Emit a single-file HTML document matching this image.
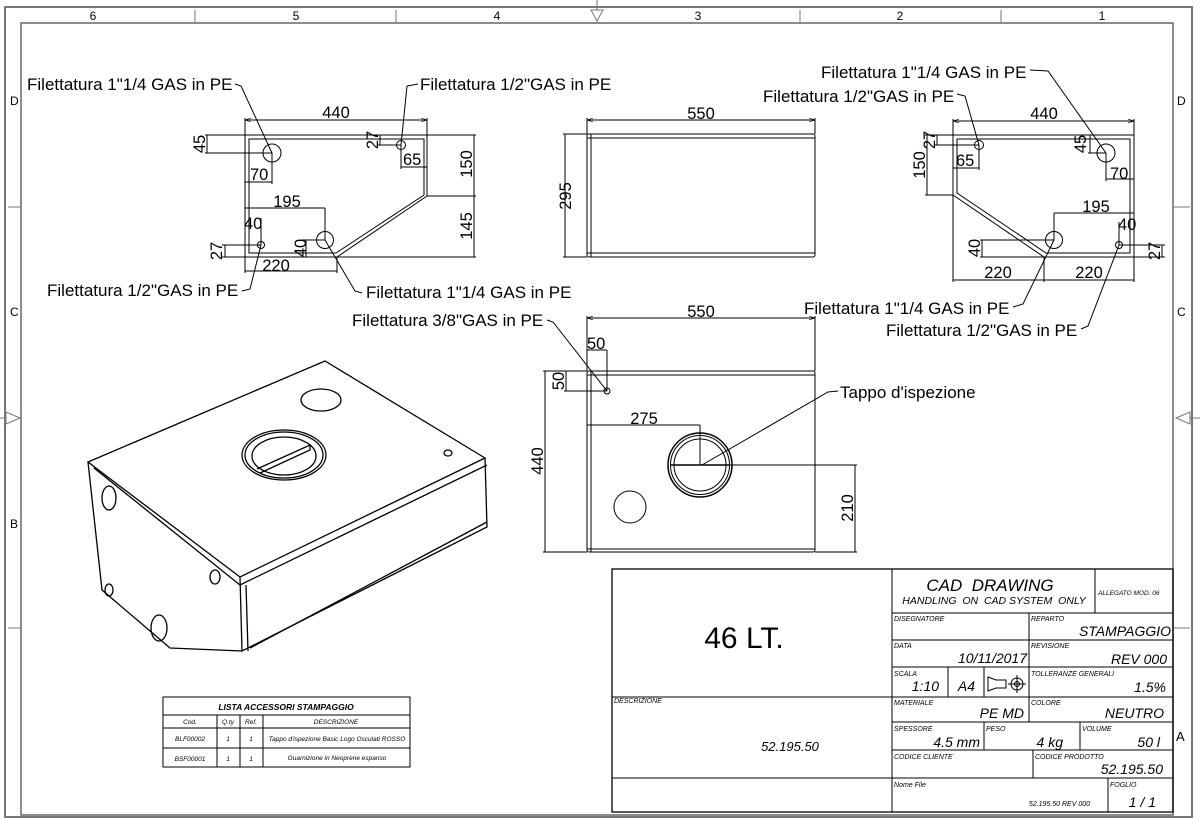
<!DOCTYPE html>
<html><head><meta charset="utf-8"><style>
html,body{margin:0;padding:0;background:#fff;}
svg{display:block;}
text{font-family:"Liberation Sans",Arial,sans-serif;fill:#000;}
.d{font-size:16.5px;}
.l{font-size:17px;}
.i{font-style:italic;}
</style></head><body>
<svg width="1200" height="819" viewBox="0 0 1200 819" xmlns="http://www.w3.org/2000/svg">
<defs>
<marker id="a" viewBox="0 0 10 10" refX="10" refY="5" markerWidth="6" markerHeight="6" orient="auto-start-reverse"><path d="M0,2 L10,5 L0,8" fill="none" stroke="#000" stroke-width="1"/></marker>
</defs>
<g fill="none" stroke="#000" stroke-width="1">
<rect x="5" y="7" width="1187" height="810" stroke="#777" stroke-width="2"/>
<rect x="21" y="23" width="1152" height="792" stroke="#666" stroke-width="1.5"/>
<g stroke="#777">
<line x1="195" y1="10" x2="195" y2="23"/><line x1="396" y1="10" x2="396" y2="23"/><line x1="800" y1="10" x2="800" y2="23"/><line x1="1001" y1="10" x2="1001" y2="23"/>
<path d="M591,10 L603,10 L597,21 Z"/><line x1="597" y1="0" x2="597" y2="10"/>
<line x1="8" y1="207" x2="21" y2="207"/><line x1="8" y1="628" x2="21" y2="628"/>
<path d="M6,412 L6,424 L20,418 Z"/><line x1="0" y1="418" x2="6" y2="418"/>
<line x1="1173" y1="207" x2="1190" y2="207"/><line x1="1173" y1="628" x2="1190" y2="628"/>
<path d="M1190,412 L1190,424 L1176,418 Z"/><line x1="1190" y1="418" x2="1200" y2="418"/>
</g>

<!-- LEFT VIEW -->
<path d="M245,135 L427,135 L427,196 L337,257 L245,257 Z"/>
<path d="M249,139 L424,139 L424,195 L336,253 L249,253 Z"/>
<circle cx="272" cy="153" r="9"/>
<circle cx="401" cy="145" r="4.5"/>
<circle cx="261" cy="245" r="3.5"/>
<circle cx="325" cy="240" r="8.5"/>
<line x1="245" y1="120" x2="427" y2="120" marker-start="url(#a)" marker-end="url(#a)"/>
<line x1="245" y1="118" x2="245" y2="135"/><line x1="427" y1="118" x2="427" y2="135"/>
<line x1="205" y1="135" x2="245" y2="135"/><line x1="205" y1="153" x2="272" y2="153"/><line x1="207" y1="135" x2="207" y2="153"/>
<line x1="272" y1="153" x2="272" y2="184"/><line x1="245" y1="182" x2="272" y2="182"/>
<line x1="378" y1="145" x2="401" y2="145"/><line x1="380" y1="135" x2="380" y2="145"/>
<line x1="401" y1="145" x2="401" y2="169"/><line x1="401" y1="167" x2="427" y2="167"/>
<line x1="427" y1="135" x2="476" y2="135"/><line x1="427" y1="196" x2="476" y2="196"/><line x1="337" y1="257" x2="476" y2="257"/>
<line x1="474" y1="135" x2="474" y2="257"/>
<line x1="245" y1="208" x2="325" y2="208"/><line x1="325" y1="208" x2="325" y2="240"/>
<line x1="261" y1="218" x2="261" y2="245"/>
<line x1="222" y1="245" x2="261" y2="245"/><line x1="222" y1="257" x2="245" y2="257"/><line x1="225" y1="245" x2="225" y2="257"/>
<line x1="302" y1="240" x2="325" y2="240"/><line x1="306" y1="240" x2="306" y2="257"/>
<line x1="245" y1="257" x2="245" y2="273"/><line x1="337" y1="257" x2="337" y2="273"/><line x1="245" y1="271" x2="337" y2="271"/>
<path d="M235,84 L241,86 L272,153"/>
<path d="M418,84 L407,86 L401,145"/>
<path d="M242,291 L250,289 L261,245"/>
<path d="M362,293 L355,291 L325,240"/>

<!-- MIDDLE TOP VIEW -->
<rect x="587" y="134" width="228" height="123" rx="2"/>
<line x1="587" y1="138" x2="815" y2="138"/><line x1="587" y1="253" x2="815" y2="253"/><line x1="591" y1="134" x2="591" y2="257"/>
<line x1="587" y1="120" x2="815" y2="120" marker-start="url(#a)" marker-end="url(#a)"/>
<line x1="587" y1="118" x2="587" y2="134"/><line x1="815" y1="118" x2="815" y2="134"/>
<line x1="565" y1="134" x2="565" y2="257"/><line x1="563" y1="134" x2="587" y2="134"/><line x1="563" y1="257" x2="587" y2="257"/>

<!-- RIGHT VIEW -->
<path d="M953,135 L1134,135 L1134,257 L1044,257 L953,195 Z"/>
<path d="M957,139 L1130,139 L1130,253 L1046,253 L957,193 Z"/>
<circle cx="979" cy="145" r="4.5"/>
<circle cx="1106" cy="153" r="9"/>
<circle cx="1054" cy="240" r="8.5"/>
<circle cx="1119" cy="245" r="3.5"/>
<line x1="953" y1="121" x2="1134" y2="121" marker-start="url(#a)" marker-end="url(#a)"/>
<line x1="953" y1="119" x2="953" y2="135"/><line x1="1134" y1="119" x2="1134" y2="135"/>
<line x1="925" y1="135" x2="953" y2="135"/><line x1="925" y1="195" x2="953" y2="195"/><line x1="927" y1="135" x2="927" y2="195"/>
<line x1="935" y1="145" x2="979" y2="145"/><line x1="937" y1="135" x2="937" y2="145"/>
<line x1="979" y1="145" x2="979" y2="170"/><line x1="953" y1="168" x2="979" y2="168"/>
<line x1="1088" y1="153" x2="1106" y2="153"/><line x1="1090" y1="135" x2="1090" y2="153"/>
<line x1="1106" y1="153" x2="1106" y2="181"/><line x1="1106" y1="179" x2="1134" y2="179"/>
<line x1="1054" y1="213" x2="1134" y2="213"/><line x1="1054" y1="213" x2="1054" y2="240"/>
<line x1="1119" y1="222" x2="1119" y2="245"/>
<line x1="980" y1="240" x2="1054" y2="240"/><line x1="980" y1="257" x2="1044" y2="257"/><line x1="982" y1="240" x2="982" y2="257"/>
<line x1="1119" y1="245" x2="1165" y2="245"/><line x1="1134" y1="257" x2="1165" y2="257"/><line x1="1162" y1="245" x2="1162" y2="257"/>
<line x1="953" y1="195" x2="953" y2="282"/><line x1="1134" y1="257" x2="1134" y2="282"/><line x1="1044" y1="257" x2="1044" y2="282"/>
<line x1="953" y1="280" x2="1134" y2="280"/>
<path d="M1030,70 L1048,71 L1106,153"/>
<path d="M957,94 L965,96 L979,145"/>
<path d="M1013,307 L1023,304 L1054,240"/>
<path d="M1081,329 L1088,326 L1119,245"/>

<!-- BOTTOM VIEW -->
<rect x="587" y="371" width="228" height="181" rx="2"/>
<line x1="587" y1="375" x2="815" y2="375"/><line x1="591" y1="371" x2="591" y2="552"/><line x1="587" y1="549" x2="815" y2="549"/>
<line x1="587" y1="318" x2="815" y2="318" marker-start="url(#a)" marker-end="url(#a)"/>
<line x1="587" y1="316" x2="587" y2="371"/><line x1="815" y1="316" x2="815" y2="371"/>
<line x1="545" y1="371" x2="545" y2="552"/><line x1="543" y1="371" x2="587" y2="371"/><line x1="543" y1="552" x2="587" y2="552"/>
<line x1="587" y1="350" x2="607" y2="350"/><line x1="607" y1="350" x2="607" y2="391"/>
<line x1="564" y1="391" x2="607" y2="391"/><line x1="566" y1="371" x2="566" y2="391"/>
<circle cx="607" cy="391" r="3"/>
<line x1="587" y1="425" x2="700" y2="425"/><line x1="700" y1="425" x2="700" y2="465"/>
<circle cx="700" cy="465" r="32" stroke-width="1.5"/><circle cx="700" cy="465" r="29.5"/><circle cx="700" cy="465" r="26"/>
<line x1="670" y1="465" x2="730" y2="465" stroke-width="1.5"/>
<line x1="730" y1="465" x2="857" y2="465"/><line x1="815" y1="552" x2="857" y2="552"/><line x1="855" y1="465" x2="855" y2="552"/>
<circle cx="630" cy="507" r="16"/>
<path d="M838,391 L828,392 L702,465"/>
<path d="M547,320 L553,322 L607,391"/>

<!-- ISOMETRIC -->
<g stroke-width="1.3">
<path d="M88,462 L325,361 L485,458 L240,577 Z"/>
<path d="M94,468 L240,585 L487,465"/>
<path d="M88,462 L102,590 L170,648 L242,651 L487,527 L485,458"/>
<path d="M240,577 L242,651"/>
<path d="M246,585 L248,651"/>
<path d="M250,648 L487,522"/>
<ellipse cx="284" cy="455" rx="42" ry="25"/>
<ellipse cx="284" cy="455" rx="39" ry="23"/>
<ellipse cx="284" cy="456" rx="32" ry="19"/>
<path d="M257,469 L310,445 L310,450 L260,473"/>
<ellipse cx="321" cy="400" rx="20" ry="11"/>
<ellipse cx="448" cy="453" rx="4" ry="3"/>
<ellipse cx="109" cy="498" rx="7" ry="12"/>
<ellipse cx="215" cy="577" rx="5" ry="7"/>
<ellipse cx="109" cy="590" rx="4" ry="6"/>
<ellipse cx="159" cy="628" rx="8" ry="13"/>
</g>

<!-- TABLE -->
<rect x="163" y="697" width="247" height="70"/>
<line x1="163" y1="715" x2="410" y2="715"/><line x1="163" y1="728" x2="410" y2="728"/><line x1="163" y1="748" x2="410" y2="748"/>
<line x1="217" y1="715" x2="217" y2="767"/><line x1="240" y1="715" x2="240" y2="767"/><line x1="263" y1="715" x2="263" y2="767"/>

<!-- TITLE BLOCK -->
<rect x="612" y="569" width="561" height="243" stroke-width="1.3"/>
<line x1="892" y1="569" x2="892" y2="812"/>
<line x1="612" y1="697" x2="892" y2="697"/><line x1="612" y1="778" x2="892" y2="778"/>
<line x1="892" y1="613" x2="1173" y2="613"/><line x1="892" y1="640" x2="1173" y2="640"/><line x1="892" y1="667" x2="1173" y2="667"/>
<line x1="892" y1="697" x2="1173" y2="697"/><line x1="892" y1="722" x2="1173" y2="722"/><line x1="892" y1="750" x2="1173" y2="750"/><line x1="892" y1="778" x2="1173" y2="778"/>
<line x1="1095" y1="569" x2="1095" y2="613"/>
<line x1="1029" y1="613" x2="1029" y2="722"/>
<line x1="948" y1="667" x2="948" y2="697"/><line x1="984" y1="667" x2="984" y2="697"/>
<line x1="984" y1="722" x2="984" y2="750"/><line x1="1080" y1="722" x2="1080" y2="750"/>
<line x1="1033" y1="750" x2="1033" y2="778"/>
<line x1="1108" y1="778" x2="1108" y2="812"/>
<path d="M988,677 L996,680 L1006,680 L1006,688 L996,688 L988,691 Z"/>
<circle cx="1017" cy="684" r="6"/><circle cx="1017" cy="684" r="2.5"/>
<line x1="1008" y1="684" x2="1026" y2="684"/><line x1="1017" y1="675" x2="1017" y2="693"/>
</g>

<g stroke="none">
<text x="93" y="20" font-size="12" text-anchor="middle">6</text>
<text x="296" y="20" font-size="12" text-anchor="middle">5</text>
<text x="497" y="20" font-size="12" text-anchor="middle">4</text>
<text x="698" y="20" font-size="12" text-anchor="middle">3</text>
<text x="900" y="20" font-size="12" text-anchor="middle">2</text>
<text x="1102" y="20" font-size="12" text-anchor="middle">1</text>
<text x="10" y="105" font-size="12">D</text><text x="10" y="316" font-size="12">C</text><text x="10" y="528" font-size="12">B</text>
<text x="1177" y="105" font-size="12">D</text><text x="1177" y="316" font-size="12">C</text><text x="1176" y="741" font-size="13">A</text>

<text class="l" x="27" y="90">Filettatura 1"1/4 GAS in PE</text>
<text class="l" x="420" y="90">Filettatura 1/2"GAS in PE</text>
<text class="l" x="47" y="296">Filettatura 1/2"GAS in PE</text>
<text class="l" x="366" y="298">Filettatura 1"1/4 GAS in PE</text>
<text class="d" x="336" y="118" text-anchor="middle">440</text>
<text class="d" x="250" y="180">70</text>
<text class="d" x="403" y="165">65</text>
<text class="d" x="287" y="207" text-anchor="middle">195</text>
<text class="d" x="244" y="229">40</text>
<text class="d" x="276" y="271" text-anchor="middle">220</text>
<text class="d" transform="translate(205,144) rotate(-90)" text-anchor="middle">45</text>
<text class="d" transform="translate(378,140) rotate(-90)" text-anchor="middle">27</text>
<text class="d" transform="translate(472,164) rotate(-90)" text-anchor="middle">150</text>
<text class="d" transform="translate(472,226) rotate(-90)" text-anchor="middle">145</text>
<text class="d" transform="translate(222,251) rotate(-90)" text-anchor="middle">27</text>
<text class="d" transform="translate(306,248) rotate(-90)" text-anchor="middle">40</text>

<text class="d" x="701" y="119" text-anchor="middle">550</text>
<text class="d" transform="translate(571,196) rotate(-90)" text-anchor="middle">295</text>

<text class="l" x="821" y="78">Filettatura 1"1/4 GAS in PE</text>
<text class="l" x="763" y="102">Filettatura 1/2"GAS in PE</text>
<text class="l" x="804" y="314">Filettatura 1"1/4 GAS in PE</text>
<text class="l" x="886" y="336">Filettatura 1/2"GAS in PE</text>
<text class="d" x="1044" y="119" text-anchor="middle">440</text>
<text class="d" x="956" y="166">65</text>
<text class="d" x="1110" y="179">70</text>
<text class="d" x="1096" y="212" text-anchor="middle">195</text>
<text class="d" x="1118" y="230">40</text>
<text class="d" x="998" y="278" text-anchor="middle">220</text>
<text class="d" x="1089" y="278" text-anchor="middle">220</text>
<text class="d" transform="translate(925,165) rotate(-90)" text-anchor="middle">150</text>
<text class="d" transform="translate(935,140) rotate(-90)" text-anchor="middle">27</text>
<text class="d" transform="translate(1086,144) rotate(-90)" text-anchor="middle">45</text>
<text class="d" transform="translate(980,248) rotate(-90)" text-anchor="middle">40</text>
<text class="d" transform="translate(1160,251) rotate(-90)" text-anchor="middle">27</text>

<text class="l" x="352" y="326">Filettatura 3/8"GAS in PE</text>
<text class="l" x="840" y="398">Tappo d'ispezione</text>
<text class="d" x="701" y="317" text-anchor="middle">550</text>
<text class="d" x="587" y="349">50</text>
<text class="d" x="644" y="424" text-anchor="middle">275</text>
<text class="d" transform="translate(564,381) rotate(-90)" text-anchor="middle">50</text>
<text class="d" transform="translate(543,461) rotate(-90)" text-anchor="middle">440</text>
<text class="d" transform="translate(853,508) rotate(-90)" text-anchor="middle">210</text>

<text x="286" y="710" font-size="8.5" font-weight="bold" class="i" text-anchor="middle">LISTA ACCESSORI STAMPAGGIO</text>
<g font-size="6.5" class="i">
<text x="190" y="724" text-anchor="middle">Cod.</text>
<text x="228" y="724" text-anchor="middle">Q.ty</text>
<text x="251" y="724" text-anchor="middle">Ref.</text>
<text x="336" y="724" text-anchor="middle">DESCRIZIONE</text>
<text x="190" y="741" text-anchor="middle">BLF00002</text>
<text x="228" y="741" text-anchor="middle">1</text>
<text x="251" y="741" text-anchor="middle">1</text>
<text x="337" y="741" text-anchor="middle">Tappo d'ispezione Basic Logo Osculati ROSSO</text>
<text x="190" y="761" text-anchor="middle">BSF00001</text>
<text x="228" y="761" text-anchor="middle">1</text>
<text x="251" y="761" text-anchor="middle">1</text>
<text x="337" y="760" text-anchor="middle">Guarnizione in Neoprene espanso</text>
</g>

<text x="744" y="648" font-size="30" text-anchor="middle">46 LT.</text>
<text x="614" y="703" font-size="7" class="i">DESCRIZIONE</text>
<text x="790" y="751" font-size="13" class="i" text-anchor="middle">52.195.50</text>
<text x="990" y="591" font-size="17" class="i" text-anchor="middle">CAD&#160;&#160;DRAWING</text>
<text x="994" y="604" font-size="10.5" class="i" text-anchor="middle">HANDLING&#160;&#160;ON&#160;&#160;CAD SYSTEM&#160;&#160;ONLY</text>
<text x="1098" y="595" font-size="6.5" class="i">ALLEGATO MOD. 06</text>
<g font-size="7" class="i">
<text x="894" y="621">DISEGNATORE</text><text x="1031" y="621">REPARTO</text>
<text x="894" y="648">DATA</text><text x="1031" y="648">REVISIONE</text>
<text x="894" y="676">SCALA</text><text x="1031" y="676">TOLLERANZE GENERALI</text>
<text x="894" y="705">MATERIALE</text><text x="1031" y="705">COLORE</text>
<text x="894" y="731">SPESSORE</text><text x="986" y="731">PESO</text><text x="1082" y="731">VOLUME</text>
<text x="894" y="759">CODICE CLIENTE</text><text x="1035" y="759">CODICE PRODOTTO</text>
<text x="894" y="787">Nome File</text><text x="1110" y="787">FOGLIO</text>
<text x="1090" y="806" text-anchor="end">52.195.50 REV 000</text>
</g>
<g font-size="14" class="i" text-anchor="end">
<text x="1171" y="636">STAMPAGGIO</text>
<text x="1027" y="663">10/11/2017</text>
<text x="1167" y="664">REV 000</text>
<text x="939" y="691">1:10</text>
<text x="975" y="691">A4</text>
<text x="1166" y="692">1.5%</text>
<text x="1024" y="718">PE MD</text>
<text x="1164" y="718">NEUTRO</text>
<text x="980" y="747">4.5 mm</text>
<text x="1063" y="747">4 kg</text>
<text x="1160" y="747">50 l</text>
<text x="1163" y="774">52.195.50</text>
<text x="1156" y="807">1 / 1</text>
</g>
</g>
</svg>
</body></html>
